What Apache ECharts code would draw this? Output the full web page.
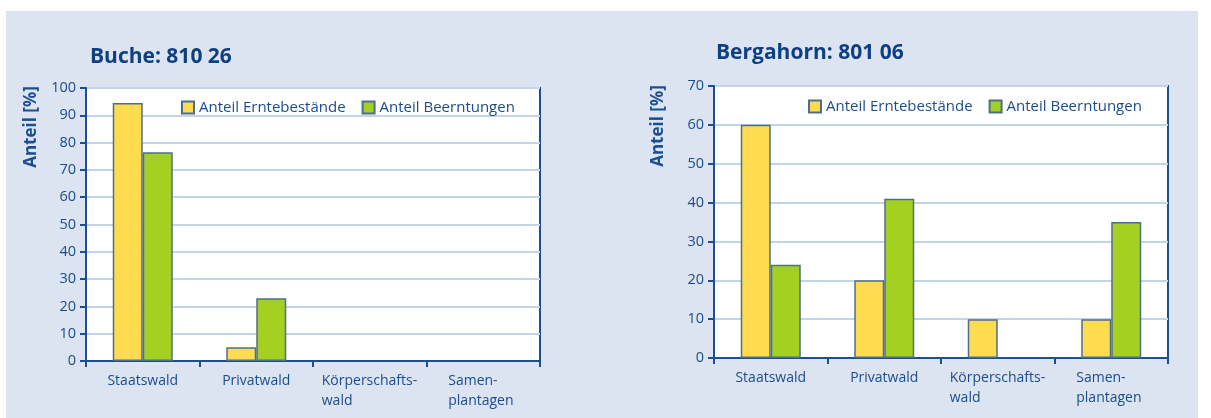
<!DOCTYPE html>
<html>
<head>
<meta charset="utf-8">
<script src="https://cdn.jsdelivr.net/npm/echarts@6/dist/echarts.min.js"></script>
<style>
  html, body { margin: 0; padding: 0; background: #fff; }
  #chart { width: 1211px; height: 418px; }
</style>
</head>
<body>
<div id="chart"></div>
<script>
// data
const categories = ['Staatswald', 'Privatwald', 'Körperschafts-\nwald', 'Samen-\nplantagen']
const seriesNames = ['Anteil Erntebestände', 'Anteil Beerntungen']
const bucheTitle = 'Buche: 810 26'
const bucheErnte = [94.5, 5, 0, 0]
const bucheBeerntung = [76.5, 23, 0, 0]
const ahornTitle = 'Bergahorn: 801 06'
const ahornErnte = [60, 20, 10, 10]
const ahornBeerntung = [24, 41, 0, 35]
const axisName = 'Anteil [%]'

const blue = '#1d4f8f'
const textBlue = '#1b4c8c'
const fontFamily = '"Open Sans", "Noto Sans", sans-serif'

const chart = echarts.init(document.getElementById('chart'))

// two-line labels are left aligned inside a block centred on the category
const labelFormatter = (value) => {
  const lines = value.split('\n')
  let key = 'c'
  if (lines.length > 1) key = lines[0].length > 8 ? 'k' : 's'
  return lines.map(line => '{' + key + '|' + line + '}').join('\n')
}

const labelBase = { color: textBlue, fontFamily, fontSize: 14, lineHeight: 20 }
const labelRich = {
  c: { ...labelBase },
  k: { ...labelBase, width: 96, align: 'left' },
  s: { ...labelBase, width: 70, align: 'left' }
}

const xAxisFor = (gridIndex) => ({
  type: 'category',
  gridIndex,
  data: categories,
  boundaryGap: true,
  axisLine: { lineStyle: { color: blue, width: 2 } },
  axisTick: { show: true, length: 6, lineStyle: { color: blue, width: 2 } },
  axisLabel: {
    interval: 0,
    margin: 10,
    formatter: labelFormatter,
    rich: labelRich
  }
})

const yAxisFor = (gridIndex, max) => ({
  type: 'value',
  gridIndex,
  min: 0,
  max,
  interval: 10,
  axisLine: { show: true, lineStyle: { color: blue, width: 2 } },
  axisTick: { show: true, length: 6, lineStyle: { color: blue, width: 2 } },
  axisLabel: { color: textBlue, fontFamily, fontSize: 14.5, margin: 10 },
  splitLine: { lineStyle: { color: '#c3d3e9', width: 2 } }
})

// zero values are not drawn in the original
const barSeries = (name, data, idx, color) => ({
  name,
  type: 'bar',
  xAxisIndex: idx,
  yAxisIndex: idx,
  data: data.map(v => (v === 0 ? null : v)),
  barWidth: 30,
  barGap: '0%',
  itemStyle: { color, borderColor: '#4d6f8f', borderWidth: 1.5 }
})

const legendFor = (left, top) => ({
  left,
  top,
  itemWidth: 12,
  itemHeight: 12,
  itemGap: 16,
  icon: 'rect',
  data: seriesNames,
  textStyle: { color: textBlue, fontFamily, fontSize: 15 }
})

const option = {
  backgroundColor: '#ffffff',
  animation: false,
  graphic: [
    { type: 'rect', shape: { x: 6, y: 11, width: 1192, height: 407 }, style: { fill: '#dce3f1' }, z: -10 },
    {
      type: 'text', x: 31, y: 127, rotation: Math.PI / 2,
      style: { text: axisName, fill: blue, font: 'bold 17px ' + fontFamily, align: 'center', verticalAlign: 'middle' }
    },
    {
      type: 'text', x: 658, y: 126, rotation: Math.PI / 2,
      style: { text: axisName, fill: blue, font: 'bold 17px ' + fontFamily, align: 'center', verticalAlign: 'middle' }
    }
  ],
  title: [
    { text: bucheTitle, left: 85, top: 42, textStyle: { color: '#0e3f80', fontFamily, fontSize: 21, fontWeight: 'bold' } },
    { text: ahornTitle, left: 711, top: 38, textStyle: { color: '#0e3f80', fontFamily, fontSize: 21, fontWeight: 'bold' } }
  ],
  legend: [
    legendFor(176, 95),
    legendFor(803, 94)
  ],
  grid: [
    { left: 86, right: 671, top: 88, bottom: 57, show: true, backgroundColor: '#ffffff', borderColor: blue, borderWidth: 2 },
    { left: 714, right: 43, top: 86, bottom: 60, show: true, backgroundColor: '#ffffff', borderColor: blue, borderWidth: 2 }
  ],
  xAxis: [xAxisFor(0), xAxisFor(1)],
  yAxis: [yAxisFor(0, 100), yAxisFor(1, 70)],
  series: [
    barSeries(seriesNames[0], bucheErnte, 0, '#fedb4f'),
    barSeries(seriesNames[1], bucheBeerntung, 0, '#a4d022'),
    barSeries(seriesNames[0], ahornErnte, 1, '#fedb4f'),
    barSeries(seriesNames[1], ahornBeerntung, 1, '#a4d022')
  ]
}

chart.setOption(option)
</script>
</body>
</html>
